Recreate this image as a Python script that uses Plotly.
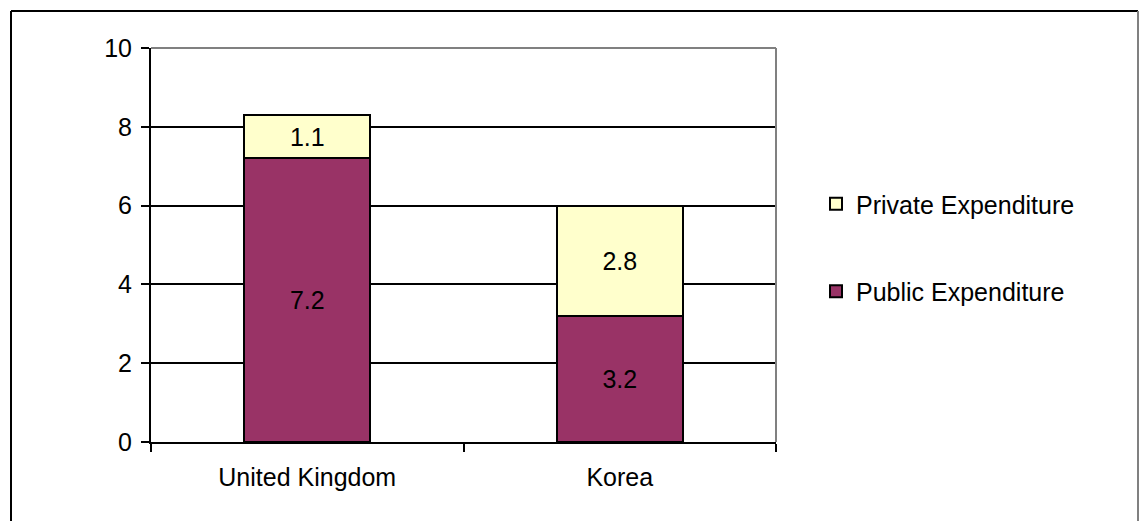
import plotly.graph_objects as go

countries = ["United Kingdom", "Korea"]
public_exp = [7.2, 3.2]
private_exp = [1.1, 2.8]
y_ticks = [0, 2, 4, 6, 8, 10]

W, H = 1139, 521
L, R, T, B = 151, 363, 48, 79
pw, ph = W - L - R, H - T - B

def px(x):
    return (x - L) / pw

def py(y):
    return (H - B - y) / ph

font = dict(family="Liberation Sans, Arial, sans-serif", size=25, color="black")

fig = go.Figure()
fig.add_trace(go.Bar(
    x=countries, y=public_exp, name="Public Expenditure",
    marker=dict(color="#993366", line=dict(color="black", width=2)),
    text=[f"{v:.1f}" for v in public_exp], textposition="inside",
    insidetextanchor="middle", textfont=dict(color="black", size=25),
    legendgroup="pub", legendrank=2,
))
fig.add_trace(go.Bar(
    x=countries, y=private_exp, name="Private Expenditure",
    marker=dict(color="#FFFFCC", line=dict(color="black", width=2)),
    text=[f"{v:.1f}" for v in private_exp], textposition="inside",
    insidetextanchor="middle", textfont=dict(color="black", size=25),
    legendgroup="priv", legendrank=1,
))

fig.update_layout(
    width=W, height=H, barmode="stack", bargap=0.597,
    margin=dict(l=L, r=R, t=T, b=B, autoexpand=False),
    paper_bgcolor="white", plot_bgcolor="white", font=font,
    uniformtext=dict(mode="show", minsize=25),
    legend=dict(
        x=px(816), y=py(181), xanchor="left", yanchor="top",
        traceorder="grouped", tracegroupgap=52,
        font=dict(size=25), itemwidth=30, bgcolor="rgba(0,0,0,0)",
    ),
    xaxis=dict(
        type="category", showline=True, linecolor="black", linewidth=2,
        ticks="outside", tickson="boundaries", ticklen=8, tickwidth=2,
        tickcolor="black", showgrid=False, tickfont=dict(size=25),
        ticklabelstandoff=12,
    ),
    yaxis=dict(
        range=[0, 10], tickvals=y_ticks, showline=True, linecolor="black",
        linewidth=2, ticks="outside", ticklen=8, tickwidth=2,
        tickcolor="black", showgrid=True, gridcolor="black", gridwidth=2,
        zeroline=False, tickfont=dict(size=25), ticklabelstandoff=4,
    ),
    shapes=[
        # plot area frame (top and right)
        dict(type="line", xref="paper", yref="paper", x0=0, x1=1, y0=1, y1=1,
             line=dict(color="#808080", width=2), layer="above"),
        dict(type="line", xref="paper", yref="paper", x0=1, x1=1, y0=0, y1=1,
             line=dict(color="#808080", width=2), layer="above"),
        # chart border
        dict(type="line", xref="paper", yref="paper", x0=px(11), x1=px(11),
             y0=py(11), y1=py(H + 2), line=dict(color="black", width=2)),
        dict(type="line", xref="paper", yref="paper", x0=px(11), x1=px(1138),
             y0=py(11), y1=py(11), line=dict(color="black", width=2)),
        dict(type="line", xref="paper", yref="paper", x0=px(1138), x1=px(1138),
             y0=py(11), y1=py(H + 2), line=dict(color="#808080", width=2)),
    ],
)

fig.write_html("out.html")
